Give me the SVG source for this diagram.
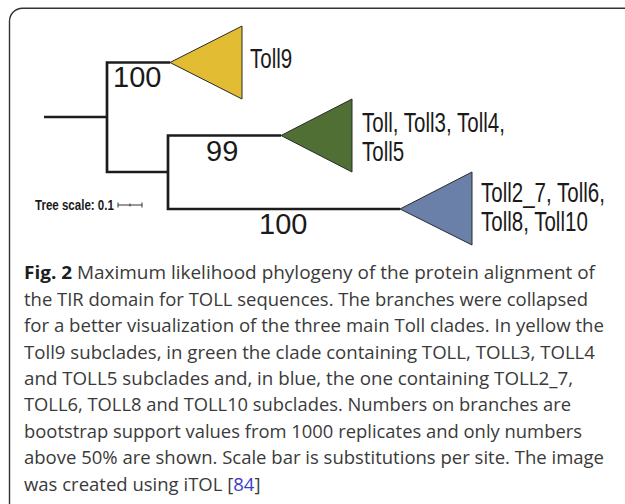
<svg xmlns="http://www.w3.org/2000/svg" width="625" height="504" viewBox="0 0 625 504">
  <style>
    .branch { fill: none; stroke: #1c1c1c; stroke-width: 2.7; stroke-linejoin: miter; stroke-linecap: butt; }
    .clade { stroke: #2a2a2a; stroke-width: 1; stroke-linejoin: miter; }
    .label { font-family: "Liberation Sans", Arial, sans-serif; font-size: 27px; fill: #1a1a1a; }
    .boot { font-family: "Liberation Sans", Arial, sans-serif; font-size: 29px; fill: #1a1a1a; }
    .scale { font-family: "Liberation Sans", Arial, sans-serif; font-size: 15px; font-weight: bold; fill: #1a1a1a; }
    .cap { font-family: "Open Sans", "Noto Sans", sans-serif; font-size: 18.5px; fill: #3a3a3a; }
    .fig { font-weight: bold; fill: #1e1e1e; }
    .ref { fill: #3b3bd0; }
  </style>

  <!-- frame around figure -->
  <rect x="9.5" y="8.3" width="640" height="520" rx="13" ry="13" fill="#ffffff" stroke="#333333" stroke-width="1.4"/>

  <!-- tree branches -->
  <g id="connectors">
    <path class="branch" d="M44,117 H107"/>
    <path class="branch" d="M170,62.5 H107 V172 H168"/>
    <path class="branch" d="M281,135.5 H168 V209 H400"/>
  </g>

  <!-- bootstrap support values -->
  <g id="bootstrap">
    <text class="boot" x="113" y="87">100</text>
    <text class="boot" x="206" y="161">99</text>
    <text class="boot" x="259" y="234">100</text>
  </g>

  <!-- collapsed clades; labels use a condensed set (horizontal scale) -->
  <g id="clade-toll9">
    <path class="clade" fill="#e2bc33" d="M170,62.5 L242,26 L242,99 Z"/>
    <text class="label" transform="translate(250,68) scale(0.76,1)">Toll9</text>
  </g>
  <g id="clade-toll">
    <path class="clade" fill="#4f6f35" d="M281,135.5 L352,99 L352,172 Z"/>
    <text class="label" transform="translate(362,132) scale(0.76,1)">Toll, Toll3, Toll4,</text>
    <text class="label" transform="translate(362,161) scale(0.76,1)">Toll5</text>
  </g>
  <g id="clade-toll2">
    <path class="clade" fill="#6b80a8" d="M400,209 L472,172 L472,245 Z"/>
    <text class="label" transform="translate(481,202) scale(0.76,1)">Toll2_7, Toll6,</text>
    <text class="label" transform="translate(481,231) scale(0.76,1)">Toll8, Toll10</text>
  </g>

  <!-- scale bar -->
  <g id="tree-scale">
    <text class="scale" transform="translate(35,210) scale(0.77,1)">Tree scale: 0.1</text>
    <path d="M118,205 H142 M118,202.5 V207.5 M142,202.5 V207.5 M130,203.5 V206.5" fill="none" stroke="#333333" stroke-width="1"/>
  </g>

  <!-- caption -->
  <g id="caption" class="cap">
    <text x="24" y="279.3" textLength="571" lengthAdjust="spacingAndGlyphs"><tspan class="fig">Fig. 2</tspan> Maximum likelihood phylogeny of the protein alignment of</text>
    <text x="24" y="305.7" textLength="564" lengthAdjust="spacingAndGlyphs">the TIR domain for TOLL sequences. The branches were collapsed</text>
    <text x="24" y="332.1" textLength="580" lengthAdjust="spacingAndGlyphs">for a better visualization of the three main Toll clades. In yellow the</text>
    <text x="24" y="358.5" textLength="571" lengthAdjust="spacingAndGlyphs">Toll9 subclades, in green the clade containing TOLL, TOLL3, TOLL4</text>
    <text x="24" y="384.9" textLength="549" lengthAdjust="spacingAndGlyphs">and TOLL5 subclades and, in blue, the one containing TOLL2_7,</text>
    <text x="24" y="411.3" textLength="547" lengthAdjust="spacingAndGlyphs">TOLL6, TOLL8 and TOLL10 subclades. Numbers on branches are</text>
    <text x="24" y="437.7" textLength="558" lengthAdjust="spacingAndGlyphs">bootstrap support values from 1000 replicates and only numbers</text>
    <text x="24" y="464.1" textLength="580" lengthAdjust="spacingAndGlyphs">above 50% are shown. Scale bar is substitutions per site. The image</text>
    <text x="24" y="490.5">was created using iTOL [<tspan class="ref">84</tspan>]</text>
  </g>
</svg>
